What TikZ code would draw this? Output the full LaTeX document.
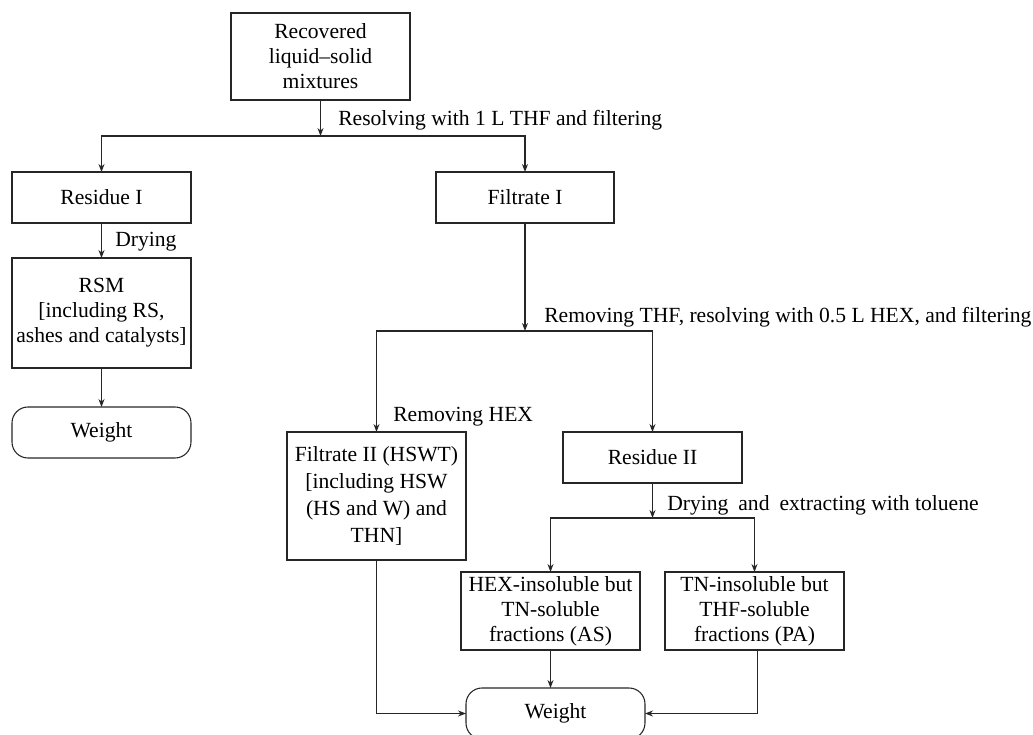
\documentclass[tikz,border=0pt]{standalone}
\usepackage{fontspec}
\setmainfont{Liberation Serif}
\usetikzlibrary{arrows.meta}
\begin{document}
\begin{tikzpicture}[x=0.75pt,y=-0.75pt,
  txt/.style={font=\fontsize{16.2pt}{18.75pt}\selectfont},
  box/.style={txt,draw=black!85,line width=0.8pt,align=center,inner sep=0pt,outer sep=0pt,minimum width=134.25pt},
  term/.style={box,rounded corners=12pt},
  lbl/.style={txt,anchor=west,inner sep=0pt},
  arr/.style={draw=black!85,line width=0.8pt,-{Stealth[length=6pt,width=4.5pt]}},
  ln/.style={draw=black!85,line width=0.8pt}]
\useasboundingbox (0,0) rectangle (1033,735);

\node[box,minimum height=65.25pt] (top) at (320.5,56.5) {Recovered\\liquid--solid\\mixtures};
\node[box,minimum height=38.25pt] (res1) at (101.5,197.5) {Residue I};
\node[box,minimum height=38.25pt,minimum width=133.5pt] (fil1) at (525,197.5) {Filtrate I};
\node[box,minimum height=82.5pt] (rsm) at (101.5,313) {RSM\\{[}including RS,\\ashes and catalysts{]}};
\node[term,minimum height=38.25pt] (wt1) at (101.5,432.5) {Weight};
\node[box,minimum height=96pt] (fil2) at (376.5,496) {Filtrate II (HSWT)\\[1.5pt]{[}including HSW\\[1.5pt](HS and W) and\\[1.5pt]THN{]}};
\node[box,minimum height=38.25pt] (res2) at (652.5,457.5) {Residue II};
\node[box,minimum height=58.5pt] (hex) at (550.5,611) {HEX-insoluble but\\TN-soluble\\fractions (AS)};
\node[box,minimum height=58.5pt] (tn) at (754.5,611) {TN-insoluble but\\THF-soluble\\fractions (PA)};
\node[term,minimum height=38.25pt] (wt2) at (555.5,713.5) {Weight};

\coordinate (j1) at (320.5,136);
\coordinate (j2) at (525,331);
\coordinate (j3) at (652.5,518);
\coordinate (tnout) at ([xshift=2.25pt]tn.south);

\node[lbl] (l1) at (338,120) {Resolving with 1 L THF and filtering};
\node[lbl] (l2) at (115,242) {Drying};
\node[lbl] (l3) at (544,317) {Removing THF, resolving with 0.5 L HEX, and filtering};
\node[lbl] (l4) at (393,417) {Removing HEX};
\node[lbl] (l5) at (667,505) {Drying\hspace{0.46em}and\hspace{0.46em}extracting with toluene};

\draw[arr] (top.south) -- (j1);
\draw[arr] (j1) -| (res1.north);
\draw[arr] (j1) -| (fil1.north);
\draw[arr] (res1.south) -- (rsm.north);
\draw[arr] (rsm.south) -- (wt1.north);
\draw[arr] (fil1.south) -- (j2);
\draw[arr] (j2) -| (fil2.north);
\draw[arr] (j2) -| (res2.north);
\draw[arr] (res2.south) -- (j3);
\draw[arr] (j3) -| (hex.north);
\draw[arr] (j3) -| (tn.north);
\draw[arr] (hex.south) -- (hex.south |- wt2.north);
\draw[arr] (fil2.south) |- (wt2.west);
\draw[arr] (tnout) |- (wt2.east);
\end{tikzpicture}
\end{document}
